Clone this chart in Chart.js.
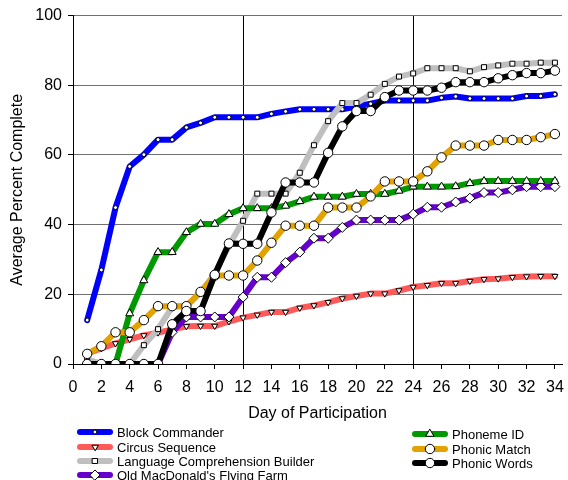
<!DOCTYPE html>
<html>
<head>
<meta charset="utf-8">
<script src="https://cdn.jsdelivr.net/npm/chart.js@4.4.1/dist/chart.umd.min.js"></script>
<style>
  html, body { margin: 0; padding: 0; background: #fff; }
  #wrap { width: 568px; height: 480px; }
</style>
</head>
<body>
<div id="wrap"><canvas id="progressChart" width="568" height="480"></canvas></div>
<script>
// day of participation
const days = [1, 2, 3, 4, 5, 6, 7, 8, 9, 10, 11, 12, 13, 14, 15, 16, 17, 18, 19, 20, 21, 22, 23, 24, 25, 26, 27, 28, 29, 30, 31, 32, 33, 34];

// average percent complete per game
const blockCommander = [12.6, 27.0, 44.9, 56.7, 60.1, 64.4, 64.4, 67.9, 69.2, 70.8, 70.8, 70.8, 70.8, 71.8, 72.5, 73.1, 73.1, 73.1, 73.1, 73.9, 74.7, 75.6, 75.6, 75.6, 75.6, 76.4, 76.8, 76.2, 76.2, 76.2, 76.2, 76.9, 76.9, 77.4];
const circusSequence = [3.0, 4.5, 5.9, 7.1, 8.2, 9.0, 9.9, 10.8, 10.9, 10.9, 12.2, 13.3, 14.1, 14.9, 14.9, 16.1, 16.8, 17.7, 18.8, 19.5, 20.2, 20.2, 21.1, 22.1, 22.6, 23.2, 23.2, 23.8, 24.3, 24.5, 24.9, 25.1, 25.2, 25.2];
const languageComprehension = [1.4, 0, 0, 0, 5.4, 10.0, 16.4, 16.6, 20.5, 26.0, 34.0, 41.1, 48.9, 48.9, 48.9, 54.9, 62.8, 69.7, 74.9, 74.9, 77.3, 80.4, 82.5, 83.4, 84.9, 84.9, 84.9, 84.0, 85.2, 85.7, 86.2, 86.2, 86.5, 86.5];
const oldMacDonald = [0, 0, 0, 0, 0, 0, 9.1, 13.5, 13.5, 13.5, 13.5, 19.2, 24.9, 24.9, 29.1, 32.1, 36.1, 36.1, 39.2, 41.3, 41.3, 41.3, 41.3, 43.0, 45.0, 45.0, 46.5, 47.6, 49.2, 49.2, 50.0, 50.9, 50.9, 50.9];
const phonemeId = [0, 0, 0, 14.5, 24.0, 32.1, 32.1, 37.8, 40.2, 40.2, 43.0, 44.7, 44.7, 44.7, 45.4, 46.7, 48.0, 48.0, 48.0, 48.8, 48.8, 48.8, 49.7, 50.9, 50.9, 50.9, 51.0, 51.9, 52.5, 52.5, 52.5, 52.5, 52.5, 52.5];
const phonicMatch = [2.9, 5.1, 9.1, 9.1, 12.6, 16.6, 16.6, 16.6, 20.7, 25.4, 25.4, 25.4, 29.7, 34.8, 39.7, 39.7, 39.7, 44.9, 44.9, 44.9, 48.1, 52.4, 52.4, 52.4, 55.3, 59.3, 62.7, 62.7, 62.7, 64.3, 64.3, 64.3, 65.1, 66.0];
const phonicWords = [0, 0, 0, 0, 0, 0, 11.4, 15.2, 15.2, 25.6, 34.6, 34.5, 34.5, 43.5, 52.1, 52.1, 52.1, 60.6, 68.2, 72.6, 72.6, 76.6, 78.5, 78.5, 78.5, 79.3, 80.9, 80.9, 80.9, 82.0, 82.9, 83.5, 83.5, 84.2];

const xTicksMax = 34.5;
const yTicks = [0, 20, 40, 60, 80, 100];

const FONT = '"Liberation Sans", Arial, Helvetica, sans-serif';

const series = [
    { label: 'Block Commander', values: blockCommander, color: '#0000FF', style: 'circle', r: 2, rot: 0 },
    { label: 'Circus Sequence', values: circusSequence, color: '#FF5A5A', style: 'triangle', r: 3.5, rot: 180 },
    { label: 'Language Comprehension Builder', values: languageComprehension, color: '#BFBFBF', style: 'rect', r: 3.5, rot: 0 },
    { label: "Old MacDonald's Flying Farm", values: oldMacDonald, color: '#6600CC', style: 'rectRot', r: 5, rot: 0 },
    { label: 'Phoneme ID', values: phonemeId, color: '#009900', style: 'triangle', r: 4.6, rot: 0 },
    { label: 'Phonic Match', values: phonicMatch, color: '#E2A200', style: 'circle', r: 4.7, rot: 0 },
    { label: 'Phonic Words', values: phonicWords, color: '#000000', style: 'circle', r: 4.7, rot: 0 },
];

// legend slots: two columns under the axis title
const legendSlots = [
    { x: 78, y: 432 }, { x: 78, y: 447 }, { x: 78, y: 461 }, { x: 78, y: 475 },
    { x: 413, y: 434 }, { x: 413, y: 449 }, { x: 413, y: 463 },
];

const bottomLegend = {
    id: 'bottomLegend',
    afterDraw(chart) {
        const ctx = chart.ctx;
        chart.data.datasets.forEach((ds, i) => {
            const slot = legendSlots[i];
            ctx.save();
            ctx.strokeStyle = ds.borderColor;
            ctx.lineWidth = 6;
            ctx.lineCap = 'round';
            ctx.beginPath();
            ctx.moveTo(slot.x + 2, slot.y);
            ctx.lineTo(slot.x + 32, slot.y);
            ctx.stroke();
            ctx.fillStyle = '#fff';
            ctx.strokeStyle = '#000';
            ctx.lineWidth = 1;
            Chart.helpers.drawPoint(ctx, {
                pointStyle: ds.pointStyle,
                rotation: ds.pointRotation,
                radius: ds.pointRadius,
                borderWidth: 1,
            }, slot.x + 17, slot.y);
            ctx.fillStyle = '#000';
            ctx.font = '13px ' + FONT;
            ctx.textBaseline = 'middle';
            ctx.textAlign = 'left';
            ctx.fillText(ds.label, slot.x + 39, slot.y + 1);
            ctx.restore();
        });
    }
};

Chart.defaults.font.family = FONT;
Chart.defaults.font.size = 16;
Chart.defaults.color = '#000';

new Chart(document.getElementById('progressChart'), {
    type: 'line',
    data: {
        datasets: series.map((s, i) => ({
            label: s.label,
            data: days.map((d, k) => ({ x: d, y: s.values[k] })),
            borderColor: s.color,
            backgroundColor: '#fff',
            borderWidth: 6,
            borderJoinStyle: 'round',
            borderCapStyle: 'round',
            tension: 0,
            pointStyle: s.style,
            pointRadius: s.r,
            pointRotation: s.rot,
            pointBorderColor: '#000',
            pointBackgroundColor: '#fff',
            pointBorderWidth: 1,
            order: series.length - i,
        }))
    },
    options: {
        responsive: false,
        animation: false,
        layout: { padding: { top: 14, right: 2, bottom: 53, left: 0 } },
        plugins: {
            legend: { display: false },
            tooltip: { enabled: false },
        },
        scales: {
            x: {
                type: 'linear',
                min: 0,
                max: xTicksMax,
                afterFit: (scale) => {
                    scale.height = 63;
                    scale.paddingLeft = 0;
                    scale.paddingRight = 0;
                },
                ticks: { stepSize: 2, includeBounds: false, padding: 9, maxRotation: 0, autoSkip: false },
                grid: {
                    color: (c) => (c.tick && (c.tick.value === 12 || c.tick.value === 24)) ? '#000' : 'rgba(0,0,0,0)',
                    tickColor: '#000',
                    tickLength: 5,
                    lineWidth: 1,
                },
                border: { color: '#000', width: 1 },
                title: { display: true, text: 'Day of Participation', font: { size: 16 }, padding: { top: 4, bottom: 4 } },
            },
            y: {
                min: yTicks[0],
                max: yTicks[yTicks.length - 1],
                afterFit: (scale) => { scale.width = 73; },
                afterBuildTicks: (scale) => { scale.ticks = yTicks.map(v => ({ value: v })); },
                ticks: { padding: 6 },
                grid: {
                    color: (c) => (c.tick && c.tick.value === 0) ? 'rgba(0,0,0,0)' : '#707070',
                    tickColor: '#000',
                    tickLength: 5,
                    lineWidth: 1,
                },
                border: { color: '#000', width: 1 },
                title: { display: true, text: 'Average Percent Complete', font: { size: 16 }, padding: { top: 8, bottom: 4 } },
            }
        }
    },
    plugins: [bottomLegend]
});
</script>
</body>
</html>
